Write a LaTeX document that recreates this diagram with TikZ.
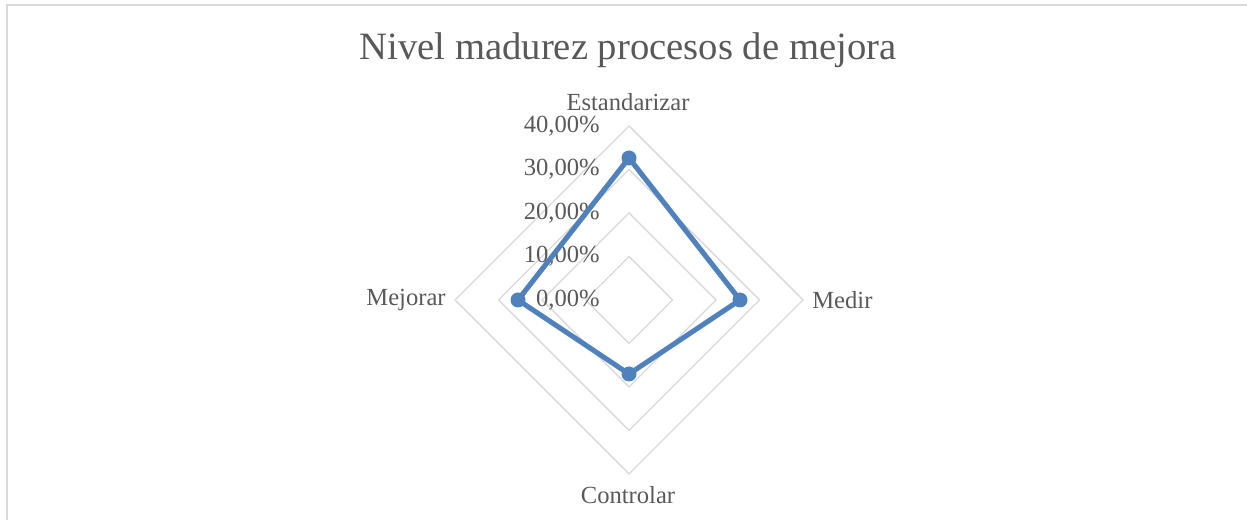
\documentclass[tikz,border=0pt]{standalone}
\usepackage{fontspec}
\setmainfont{Liberation Serif}
\definecolor{textgray}{HTML}{595959}
\definecolor{gridgray}{HTML}{D9D9D9}
\definecolor{serieblue}{HTML}{4F81BD}
\tikzset{
  gridline/.style={draw=gridgray,line width=0.8pt},
  serie/.style={draw=serieblue,line width=2.9pt,line join=round},
  dot/.style={circle,fill=serieblue,inner sep=0pt,minimum size=0.3cm},
  axislabel/.style={text=textgray,inner sep=0pt,font=\fontsize{14}{16}\selectfont},
}
\begin{document}
\begin{tikzpicture}
      \useasboundingbox (0,0) rectangle (24.94,10.4);

      % marco
      \draw[gridline,line width=1.1pt] (0.14,0) -- (0.14,10.3) -- (24.94,10.3);

      \node[axislabel,font=\fontsize{22}{26}\selectfont] (titulo) at (12.56,9.4) {Nivel madurez procesos de mejora};

      % anillos
      \coordinate (centro) at (12.58,4.4);
      \foreach \r in {1,...,4}
        \draw[gridline] (centro) +(90:0.87*\r) -- +(0:0.87*\r) -- +(-90:0.87*\r) -- +(180:0.87*\r) -- cycle;

      \foreach \p [count=\i from 0] in {0,10,20,30,40}
        \node[axislabel,anchor=east] (esc\p) at (12.0,{4.4+0.87*\i}) {\p,00\%};

      % serie
      \node[dot] (est) at (12.58,7.24) {};
      \node[dot] (med) at (14.80,4.4) {};
      \node[dot] (con) at (12.58,2.92) {};
      \node[dot] (mej) at (10.36,4.4) {};
      \draw[serie] (est.center) -- (med.center) -- (con.center) -- (mej.center) -- cycle;

      \node[axislabel] (estandarizar) at (12.56,8.36) {Estandarizar};
      \node[axislabel,anchor=west] (medir) at (16.24,4.4) {Medir};
      \node[axislabel,anchor=east] (mejorar) at (8.92,4.4) {Mejorar};
      \node[axislabel] (controlar) at (12.56,0.5) {Controlar};
    \end{tikzpicture}
\end{document}
